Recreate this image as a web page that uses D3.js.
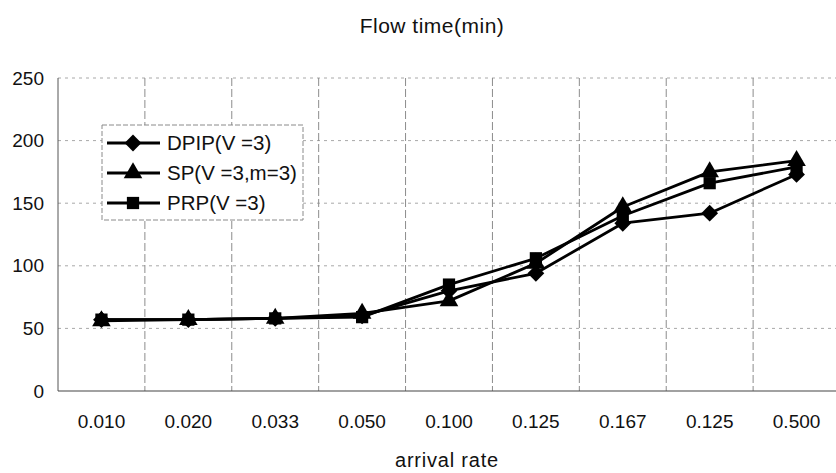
<!DOCTYPE html>
<html>
<head>
<meta charset="utf-8">
<script src="https://cdn.jsdelivr.net/npm/d3@7"></script>
<style>
  html, body { margin: 0; padding: 0; background: #fff; }
  svg { display: block; font-family: "Liberation Sans", Arial, sans-serif; }
</style>
</head>
<body>
<svg id="chart" width="836" height="473"></svg>
<script>
// Flow time versus arrival rate for three policies
const categories = ["0.010", "0.020", "0.033", "0.050", "0.100", "0.125", "0.167", "0.125 ", "0.500"];
const tickLabels = ["0.010", "0.020", "0.033", "0.050", "0.100", "0.125", "0.167", "0.125", "0.500"];
const dpip = [57, 57, 58, 60, 80, 94, 134, 142, 173];
const sp   = [56, 57, 58, 62, 72, 102, 147, 175, 184];
const prp  = [57, 57, 58, 59, 85, 106, 140, 166, 179];
const yTicks = [0, 50, 100, 150, 200, 250];
const seriesNames = ["DPIP(V =3)", "SP(V =3,m=3)", "PRP(V =3)"];

const series = [
  { name: seriesNames[0], values: dpip, symbol: d3.symbolDiamond2, size: 180 },
  { name: seriesNames[1], values: sp,   symbol: d3.symbolTriangle, size: 150 },
  { name: seriesNames[2], values: prp,  symbol: d3.symbolSquare,   size: 150 }
];

const svg = d3.select("#chart");
const plotLeft = 58, plotRight = 840, plotTop = 78, plotBottom = 391;

const x = d3.scaleBand().domain(categories).range([plotLeft, plotRight]);
const y = d3.scaleLinear().domain([0, 250]).range([plotBottom, plotTop]);

// horizontal gridlines
svg.append("g").selectAll("line").data(yTicks.filter(v => v > 0)).join("line")
  .attr("x1", plotLeft).attr("x2", 836)
  .attr("y1", d => y(d)).attr("y2", d => y(d))
  .attr("stroke", "#a8a8a8").attr("stroke-width", 1)
  .attr("stroke-dasharray", "3,4");

// vertical gridlines at category boundaries
svg.append("g").selectAll("line").data(categories.slice(1)).join("line")
  .attr("x1", d => x(d)).attr("x2", d => x(d))
  .attr("y1", plotTop).attr("y2", plotBottom)
  .attr("stroke", "#8c8c8c").attr("stroke-width", 1)
  .attr("stroke-dasharray", "8,3");

// axis frame
svg.append("line").attr("x1", plotLeft).attr("x2", plotLeft).attr("y1", plotTop).attr("y2", plotBottom)
  .attr("stroke", "#555").attr("stroke-width", 1);
svg.append("line").attr("x1", plotLeft).attr("x2", 836).attr("y1", plotBottom).attr("y2", plotBottom)
  .attr("stroke", "#444").attr("stroke-width", 1.2);

// y axis labels
const yAxis = d3.axisLeft(y).tickValues(yTicks).tickSize(0).tickPadding(14);
const gy = svg.append("g").attr("transform", `translate(${plotLeft},0)`).call(yAxis);
gy.select(".domain").remove();
gy.selectAll("text").attr("font-size", 19).attr("fill", "#111")
  .attr("font-family", "Liberation Sans, Arial, sans-serif");

// x axis labels
const xAxis = d3.axisBottom(x).tickSize(0).tickPadding(24)
  .tickFormat((d, i) => tickLabels[i]);
const gx = svg.append("g").attr("transform", `translate(0,${plotBottom})`).call(xAxis);
gx.select(".domain").remove();
gx.selectAll("text").attr("font-size", 19).attr("fill", "#111")
  .attr("font-family", "Liberation Sans, Arial, sans-serif");

// title and axis title
svg.append("text").attr("x", 432).attr("y", 33).attr("text-anchor", "middle")
  .attr("font-size", 21).attr("fill", "#111").attr("letter-spacing", 0.5)
  .text("Flow time(min)");
svg.append("text").attr("x", 447).attr("y", 467).attr("text-anchor", "middle")
  .attr("font-size", 20).attr("fill", "#111").attr("letter-spacing", 0.8)
  .text("arrival rate");

// series lines
const line = d3.line().x((d, i) => x(categories[i]) + x.bandwidth() / 2).y(d => y(d));
series.forEach(s => {
  svg.append("path").datum(s.values).attr("d", line)
    .attr("fill", "none").attr("stroke", "#000").attr("stroke-width", 2.8)
    .attr("stroke-linejoin", "round");
});
series.forEach(s => {
  svg.append("g").selectAll("path").data(s.values).join("path")
    .attr("transform", (d, i) => `translate(${x(categories[i]) + x.bandwidth() / 2},${y(d)})`)
    .attr("d", d3.symbol().type(s.symbol).size(s.size))
    .attr("fill", "#000");
});

// legend
const lg = svg.append("g");
lg.append("rect").attr("x", 102).attr("y", 125).attr("width", 201).attr("height", 95)
  .attr("fill", "#fff").attr("stroke", "#8a8a8a").attr("stroke-width", 1)
  .attr("stroke-dasharray", "5,2");
series.forEach((s, i) => {
  const cy = 143 + i * 30;
  lg.append("line").attr("x1", 107).attr("x2", 160).attr("y1", cy).attr("y2", cy)
    .attr("stroke", "#000").attr("stroke-width", 2.8);
  lg.append("path").attr("transform", `translate(133,${cy})`)
    .attr("d", d3.symbol().type(s.symbol).size(s.size)).attr("fill", "#000");
  lg.append("text").attr("x", 167).attr("y", cy).attr("dy", "0.36em")
    .attr("font-size", 20.5).attr("fill", "#111")
    .text(s.name);
});
</script>
</body>
</html>
